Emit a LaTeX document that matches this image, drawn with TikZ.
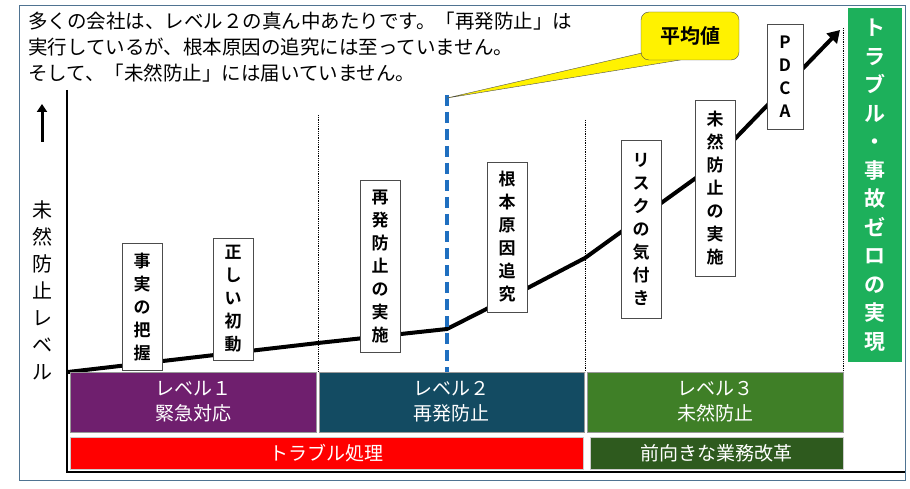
\documentclass[tikz,border=0pt]{standalone}
\usepackage{fontspec}
\newfontfamily\jp{Noto Sans CJK JP}[BoldFont=Noto Sans CJK JP Bold]
\usetikzlibrary{arrows.meta,shapes.callouts}
\definecolor{lv1}{HTML}{6F1F6E}
\definecolor{lv2}{HTML}{134B62}
\definecolor{lv3}{HTML}{3F7F27}
\definecolor{kaizen}{HTML}{2E5A1E}
\definecolor{goal}{HTML}{1DB05B}
\definecolor{frame}{HTML}{4F7391}
\definecolor{avg}{HTML}{1F6FC0}
\tikzset{
 vbox/.style={draw=black!70,fill=white,font=\jp\bfseries\fontsize{17}{23}\selectfont,align=center,inner sep=2pt,minimum width=40pt},
 lvl/.style={text=white,font=\jp\fontsize{19}{25}\selectfont,align=center},
 dotl/.style={densely dotted,line width=0.8pt},
}
\begin{document}
\begin{tikzpicture}[x=1pt,y=-1pt]
\useasboundingbox (0,0) rectangle (910,489);
\draw[frame,line width=1pt] (19,6) rectangle (905,480);
% top text
\node[anchor=west,font=\jp\fontsize{19.5}{26}\selectfont,align=left,inner sep=0pt] (intro) at (28,47)
 {多くの会社は、レベル２の真ん中あたりです。「再発防止」は\\実行しているが、根本原因の追究には至っていません。\\そして、「未然防止」には届いていません。};
% axes
\coordinate (o) at (67,472);
\coordinate (yt) at (67,90);
\coordinate (xr) at (905,472);
\draw[line width=1.2pt] (yt) -- (o) -- (xr);
% y label
\coordinate (ua) at (42,142); \coordinate (ub) at (42,104);
\draw[line width=3pt,-{Triangle[length=8pt,width=10pt]}] (ua) -- (ub);
\node[font=\jp\fontsize{20}{27}\selectfont,align=center,inner sep=0pt] (ylab) at (42,290) {未\\然\\防\\止\\レ\\ベ\\ル};
% dotted separators
\coordinate (d1a) at (318,115); \coordinate (d1b) at (318,372);
\coordinate (d2a) at (585,120); \coordinate (d2b) at (585,372);
\coordinate (d3a) at (843,28); \coordinate (d3b) at (843,372);
\draw[dotl] (d1a)--(d1b); \draw[dotl] (d2a)--(d2b); \draw[dotl] (d3a)--(d3b);
% curve
\coordinate (c0) at (68,372); \coordinate (c1) at (318,343); \coordinate (c2) at (447,329);
\coordinate (c3) at (585,258); \coordinate (c4) at (840,30);
\draw[line width=4pt,-{Triangle[length=12pt,width=14pt]}] (c0)--(c1)--(c2)--(520,292)--(c3)--(700,175)--(c4);
% average
\coordinate (av1) at (447,95); \coordinate (av2) at (447,372);
\draw[avg,line width=3.5pt,dash pattern=on 11pt off 6pt] (av1)--(av2);
\filldraw[fill=yellow,draw=black!70] (447,98) -- (655,50) -- (680,60) -- cycle;
\node[draw=black!70,fill=yellow,rounded corners=8pt,minimum width=98pt,minimum height=48pt,font=\jp\bfseries\fontsize{20}{24}\selectfont] (avgbox) at (690,36) {平均値};
% boxes
\node[vbox,minimum height=127pt] (b1) at (142,307) {事\\実\\の\\把\\握};
\node[vbox,minimum height=122pt] (b2) at (233,299) {正\\し\\い\\初\\動};
\node[vbox,minimum height=172pt] (b3) at (380,266) {再\\発\\防\\止\\の\\実\\施};
\node[vbox,minimum height=150pt] (b4) at (507,237) {根\\本\\原\\因\\追\\究};
\node[vbox,minimum height=178pt] (b5) at (641,229) {リ\\ス\\ク\\の\\気\\付\\き};
\node[vbox,minimum height=176pt] (b6) at (715,188) {未\\然\\防\\止\\の\\実\\施};
\node[vbox,minimum height=105pt,minimum width=36pt] (b7) at (785,77) {P\\D\\C\\A};
% goal
\node[fill=goal,text=white,minimum width=54pt,minimum height=354pt,font=\jp\bfseries\fontsize{21}{28.5}\selectfont,align=center,inner sep=0pt] (goalbox) at (875,185) {ト\\ラ\\ブ\\ル\\・\\事\\故\\ゼ\\ロ\\の\\実\\現};
% levels
\node[lvl,fill=lv1,draw=black!40,minimum width=246pt,minimum height=60pt] (l1) at (193,402) {レベル１\\緊急対応};
\node[lvl,fill=lv2,draw=black!40,minimum width=265pt,minimum height=60pt] (l2) at (451.5,402) {レベル２\\再発防止};
\node[lvl,fill=lv3,draw=black!40,minimum width=256pt,minimum height=60pt] (l3) at (715,402) {レベル３\\未然防止};
\node[fill=red,draw=black!20,minimum width=513pt,minimum height=32pt,text=white,font=\jp\fontsize{19}{22}\selectfont] (t1) at (326.5,453) {トラブル処理};
\node[fill=kaizen,draw=black!20,minimum width=253pt,minimum height=32pt,text=white,font=\jp\fontsize{19}{22}\selectfont] (t2) at (716.5,453) {前向きな業務改革};
\end{tikzpicture}
\end{document}
